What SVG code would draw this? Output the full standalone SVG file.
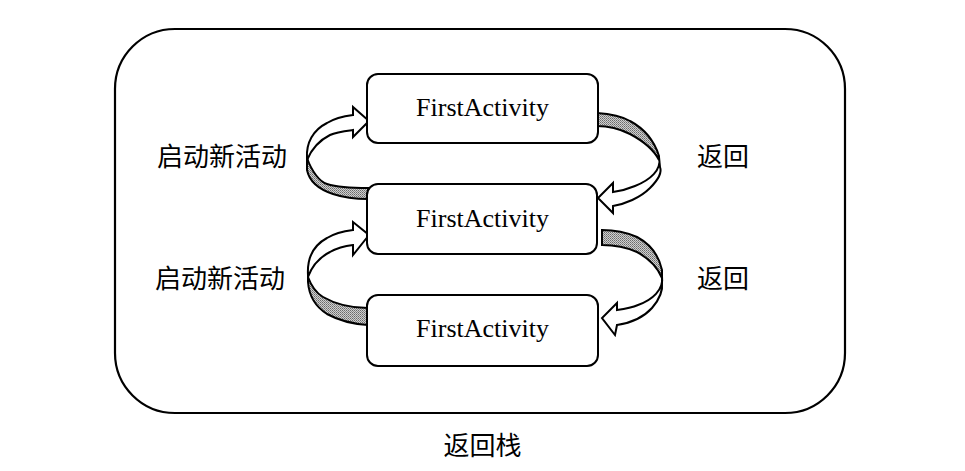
<svg xmlns="http://www.w3.org/2000/svg" width="965" height="471" viewBox="0 0 965 471">
<defs>
<pattern id="dither" width="2" height="2" patternUnits="userSpaceOnUse">
<rect width="2" height="2" fill="#cfcfcf"/>
<rect x="0" y="0" width="1" height="1" fill="#6a6a6a"/>
<rect x="1" y="1" width="1" height="1" fill="#8a8a8a"/>
</pattern>
<style>
.frame{fill:#fff;stroke:#000;stroke-width:2.2}
.box{fill:#fff;stroke:#000;stroke-width:2}
.fa{font-family:"Liberation Serif","Times New Roman",serif;font-size:26px;fill:#000;text-anchor:middle}
.zh{font-family:"Liberation Sans","Noto Sans CJK SC",sans-serif;font-size:26px;font-weight:normal;fill:#000}
.head{fill:#fff;stroke:#000;stroke-width:2;stroke-linejoin:miter}
.band{fill:url(#dither);stroke:#000;stroke-width:2}
</style>
</defs>
<rect width="965" height="471" fill="#fff"/>
<g id="stack">
<rect class="frame" x="115" y="29" width="730" height="384" rx="60" ry="60"/>
</g>
<g id="connectors">
<!-- left arrow 1: box2 -> box1 -->
<path class="band" d="M307,158 C312,172 320,182 327,184 C340,188 355,188 368,188 L368,199 C355,199 342,197 333,194 C318,189 309,180 307,170 Z"/>
<path class="head" d="M307,158 C306,143 313,130 327,123 C335,118 345,116 353,115 L353,107 L369,121 L353,137 L353,130 C345,131 336,132 330,135 C320,140 312,148 307,160 Z"/>
<!-- right arrow 1: box1 -> box2 -->
<path class="band" d="M597,113 C612,114 623,117 630,121 C643,128 654,140 659,156 L659,160 C654,150 645,142 630,134 C620,129 608,126 597,126 Z"/>
<path class="head" d="M659,157 C662,170 650,180 635,186 C628,189 620,191 613,192 L613,183 L598,198 L613,213 L613,206 C625,204 640,198 650,188 C658,180 662,172 660,167 Z"/>
<!-- left arrow 2: box3 -> box2 -->
<path class="band" d="M308,277 C312,288 318,294 323,297 C337,305 352,308 368,308 L368,325 C352,324 338,320 327,314 C316,307 309,296 308,282 Z"/>
<path class="head" d="M308,275 C307,258 314,245 327,238 C335,233 345,231 353,230 L353,222 L369,235 L353,255 L353,245 C344,246 337,248 330,252 C320,257 312,266 308,277 Z"/>
<!-- right arrow 2: box2 -> box3 -->
<path class="band" d="M602,230 C615,230 628,233 637,237 C650,244 659,256 662,270 L662,278 C657,266 648,258 637,252 C628,248 615,245 602,245 Z"/>
<path class="head" d="M662,276 C664,290 652,300 638,305 C631,308 624,309 617,310 L617,303 L602,318 L615,335 L617,325 C630,323 643,318 652,308 C659,300 663,290 662,282 Z"/>
</g>
<g id="activity1">
<rect class="box" x="367" y="74" width="231" height="69" rx="11" ry="11"/>
<text class="fa" x="482.5" y="116">FirstActivity</text>
</g>
<g id="activity2">
<rect class="box" x="367" y="184" width="230" height="70" rx="11" ry="11"/>
<text class="fa" x="482.5" y="227">FirstActivity</text>
</g>
<g id="activity3">
<rect class="box" x="367" y="295" width="231" height="71" rx="11" ry="11"/>
<text class="fa" x="482.5" y="337">FirstActivity</text>
</g>
<g id="labels">
<text class="zh" x="157" y="166">启动新活动</text>
<text class="zh" x="697" y="166">返回</text>
<text class="zh" x="155" y="288">启动新活动</text>
<text class="zh" x="697" y="288">返回</text>
<text class="zh" x="482.5" y="455" text-anchor="middle">返回栈</text>
</g>
</svg>
